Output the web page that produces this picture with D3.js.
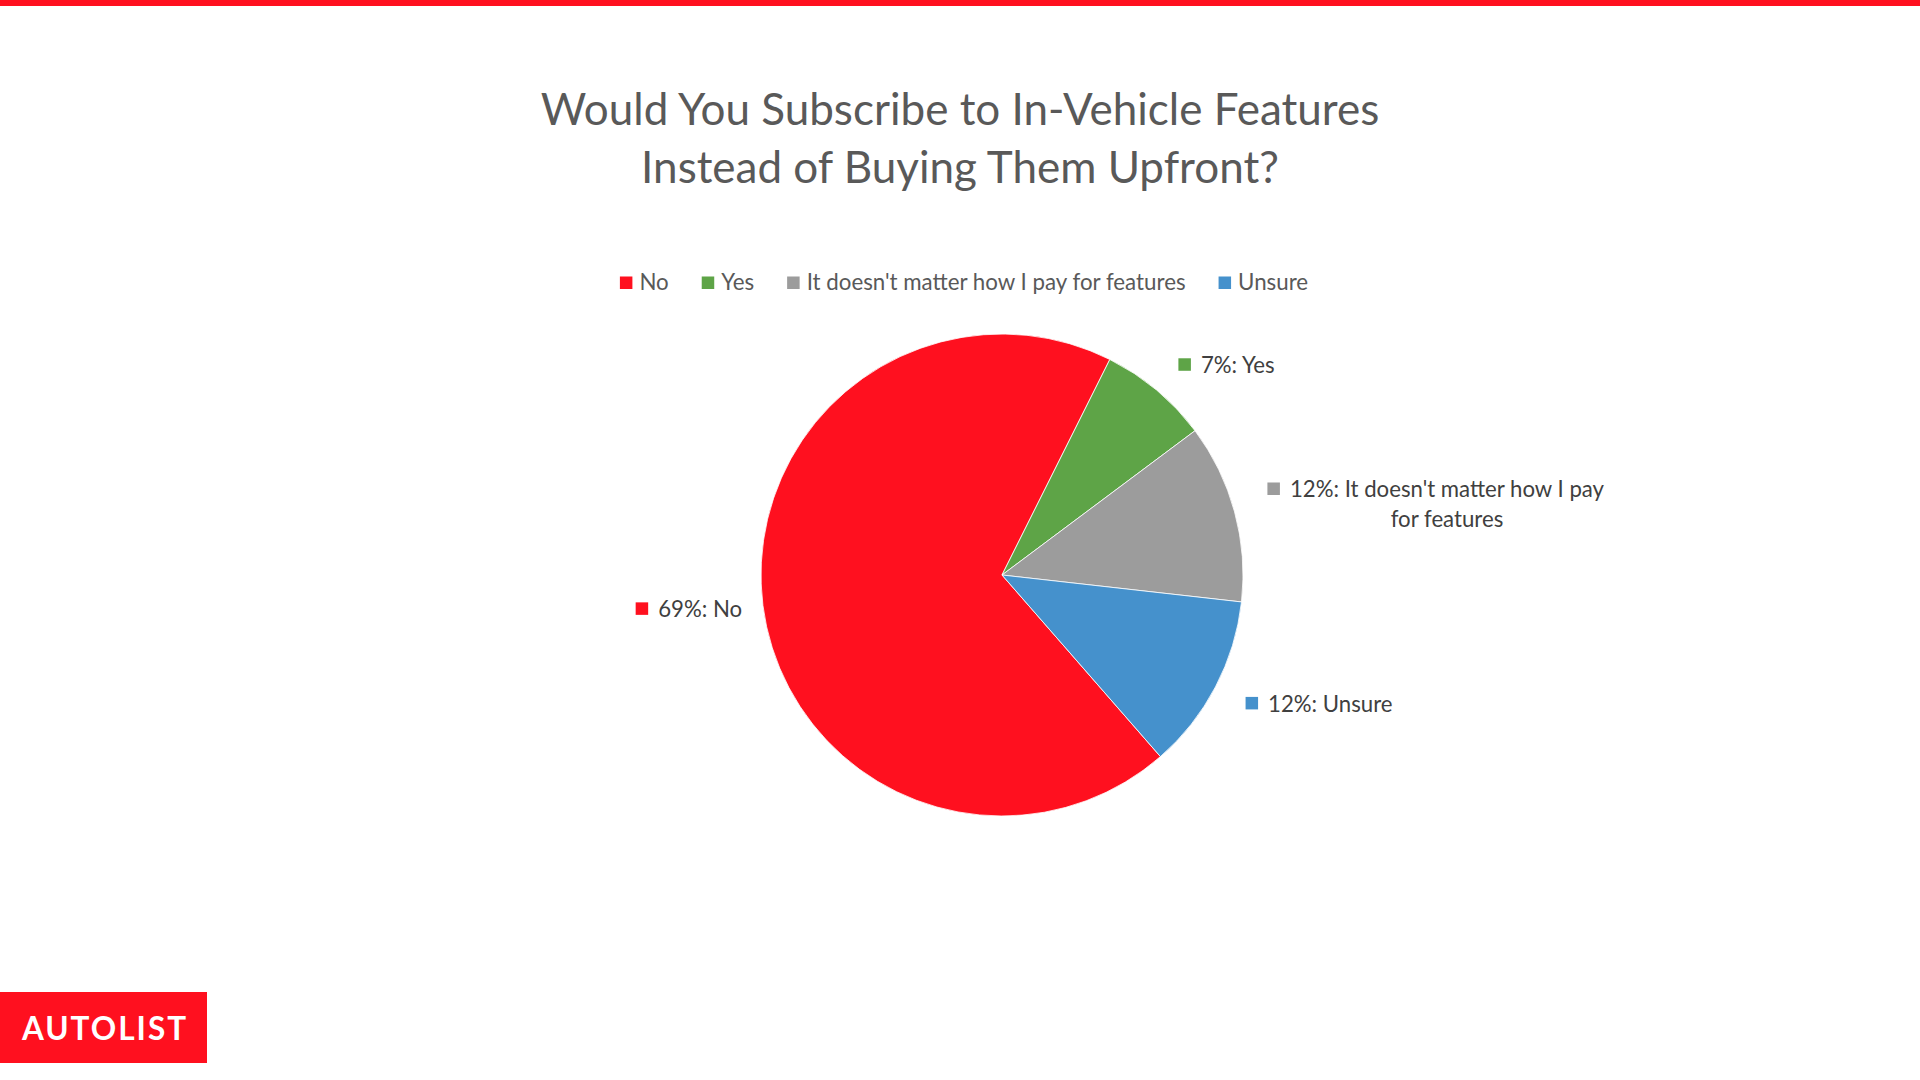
<!DOCTYPE html>
<html>
<head>
<meta charset="utf-8">
<script src="https://cdn.jsdelivr.net/npm/d3@7"></script>
<style>
  html, body { margin: 0; padding: 0; background: #ffffff; }
  svg { display: block; }
</style>
</head>
<body>
<svg id="chart" width="1920" height="1080"></svg>
<script>
// ---- data ----
const titleLines = ["Would You Subscribe to In-Vehicle Features", "Instead of Buying Them Upfront?"];
const categories = ["No", "Yes", "It doesn't matter how I pay for features", "Unsure"];
const values = [68.8, 7.4, 12.0, 11.8];
const colors = ["#FF101F", "#5EA447", "#9C9C9C", "#4591CC"];
const brand = "AUTOLIST";

// ---- layout ----
const W = 1920, H = 1080;
const cx = 1002, cy = 575, R = 241;
const startDeg = 138.9;
const FONT = "Lato, 'Open Sans', sans-serif";

const svg = d3.select("#chart");
svg.append("rect").attr("x", 0).attr("y", 0).attr("width", W).attr("height", H).attr("fill", "#fff");

// top red bar
svg.append("rect").attr("x", 0).attr("y", 0).attr("width", W).attr("height", 6).attr("fill", "#FF101F");

// title
svg.append("g").selectAll("text").data(titleLines).join("text")
  .attr("x", 960).attr("y", (d, i) => 125 + i * 58)
  .attr("text-anchor", "middle")
  .attr("font-family", FONT).attr("font-size", 44)
  .attr("fill", "#595959")
  .text(d => d);

// legend
const legFont = 22.3;
const legend = svg.append("g");
const legItems = legend.selectAll("g").data(categories).join("g");
legItems.append("rect").attr("width", 12.5).attr("height", 12.5).attr("y", 276.5)
  .attr("fill", (d, i) => colors[i]);
legItems.append("text").attr("x", 19.5).attr("y", 290)
  .attr("font-family", FONT).attr("font-size", legFont).attr("fill", "#595959")
  .text(d => d);
let lx = 0;
const gap = 33;
legItems.each(function(d) {
  const w = 19.5 + this.querySelector("text").getComputedTextLength();
  d3.select(this).attr("data-x", lx);
  lx += w + gap;
});
const totalW = lx - gap;
const lx0 = 964 - totalW / 2;
legItems.attr("transform", function() { return `translate(${lx0 + +this.getAttribute("data-x")},0)`; });

// pie
const pie = d3.pie().sort(null).value(d => d)
  .startAngle(startDeg * Math.PI / 180)
  .endAngle((startDeg + 360) * Math.PI / 180);
const arcs = pie(values);
const arc = d3.arc().innerRadius(0).outerRadius(R);
const pg = svg.append("g").attr("transform", `translate(${cx},${cy})`);
pg.selectAll("path").data(arcs).join("path")
  .attr("d", arc)
  .attr("fill", (d, i) => colors[i])
  .attr("stroke", "#ffffff").attr("stroke-width", 0.8);

// data labels
const maxW = 332;
const lblFont = 22.2;
const lg = svg.append("g");
arcs.forEach((a, i) => {
  const mid = (a.startAngle + a.endAngle) / 2;
  const dx = Math.sin(mid), dy = -Math.cos(mid);
  const labelR = dx >= 0 ? R + 34 : R + 21;
  const px = cx + dx * labelR, py = cy + dy * labelR;
  const full = Math.round(values[i]) + "%: " + categories[i];
  const g = lg.append("g");
  const measure = g.append("text").attr("font-family", FONT).attr("font-size", lblFont);
  const words = full.split(" ");
  const lines = [];
  let cur = "";
  words.forEach(w => {
    const t = cur ? cur + " " + w : w;
    measure.text(t);
    if (measure.node().getComputedTextLength() > maxW && cur) { lines.push(cur); cur = w; }
    else cur = t;
  });
  lines.push(cur);
  const widths = lines.map(l => { measure.text(l); return measure.node().getComputedTextLength(); });
  measure.remove();
  const sq = 12.5, sqGap = 10;
  const firstW = sq + sqGap + widths[0];
  const blockW = Math.max(firstW, ...widths.slice(1));
  const lh = 29.5;
  const blockH = lines.length * lh;
  const left = dx >= 0 ? px : px - blockW;
  const top = py - blockH / 2 + 1.5;
  const textCenter = left + sq + sqGap + widths[0] / 2;
  g.append("rect").attr("x", left).attr("y", top + lh / 2 - sq / 2 - 1)
    .attr("width", sq).attr("height", sq).attr("fill", colors[i]);
  lines.forEach((l, k) => {
    g.append("text")
      .attr("x", k === 0 ? left + sq + sqGap : textCenter)
      .attr("text-anchor", k === 0 ? "start" : "middle")
      .attr("y", top + k * lh + lh / 2 + 7.5)
      .attr("font-family", FONT).attr("font-size", lblFont).attr("fill", "#404040")
      .text(l);
  });
});

// logo
svg.append("rect").attr("x", 0).attr("y", 992).attr("width", 207).attr("height", 71).attr("fill", "#FF101F");
svg.append("text").attr("x", 105).attr("y", 1039.5).attr("text-anchor", "middle")
  .attr("font-family", FONT).attr("font-weight", 700).attr("font-size", 31.5)
  .attr("letter-spacing", 2).attr("fill", "#ffffff")
  .text(brand);
</script>
</body>
</html>
